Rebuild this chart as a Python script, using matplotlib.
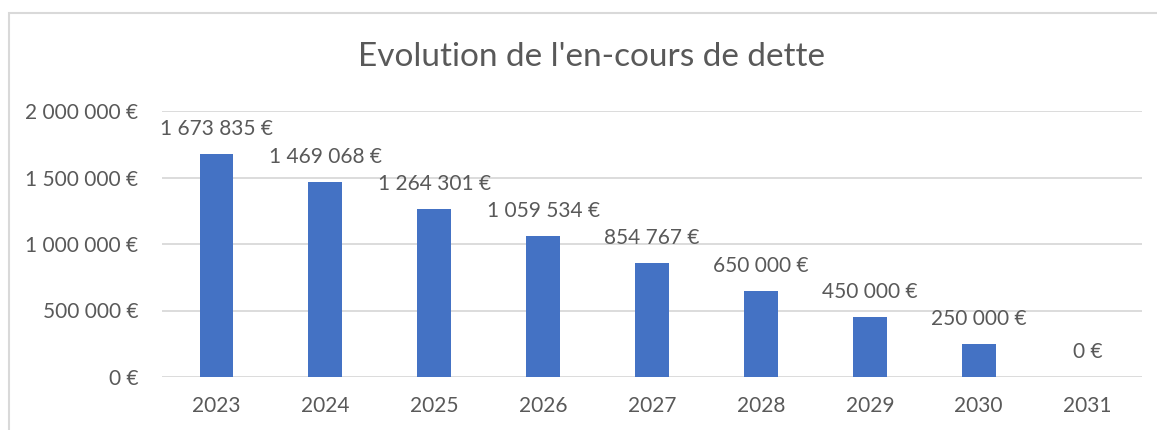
import matplotlib as mpl
import matplotlib.pyplot as plt
from matplotlib.patches import Rectangle

mpl.rcParams['font.family'] = ['Lato', 'DejaVu Sans']

years = ['2023', '2024', '2025', '2026', '2027', '2028', '2029', '2030', '2031']
encours = [1673835, 1469068, 1264301, 1059534, 854767, 650000, 450000, 250000, 0]
yticks = [0, 500000, 1000000, 1500000, 2000000]

text_color = '#595959'
grid_color = '#D9D9D9'
bar_color = '#4472C4'


def euro(v):
    return '{:,}'.format(int(v)).replace(',', ' ') + ' €'


W, H = 1157, 430
fig = plt.figure(figsize=(W / 100, H / 100), dpi=100)
ax = fig.add_axes([162 / W, 1 - 377 / H, (1142 - 162) / W, (377 - 111) / H])

x = list(range(len(years)))
bars = ax.bar(x, encours, width=0.31, color=bar_color, zorder=3)

for xi, v in zip(x, encours):
    ax.annotate(euro(v), (xi, v), xytext=(0, 18), textcoords='offset points',
                ha='center', va='center', fontsize=15, color=text_color)

ax.set_xlim(-0.5, len(years) - 0.5)
ax.set_ylim(0, 2000000)
ax.set_yticks(yticks)
ax.set_yticklabels([euro(t) for t in yticks])
ax.set_xticks(x)
ax.set_xticklabels(years)
ax.tick_params(axis='y', length=0, pad=17, labelsize=15, labelcolor=text_color)
ax.tick_params(axis='x', length=0, pad=14, labelsize=15, labelcolor=text_color)
ax.grid(axis='y', color=grid_color, linewidth=1.3, zorder=0)
for s in ax.spines.values():
    s.set_visible(False)

fig.text(591 / W, 1 - 57 / H, "Evolution de l'en-cours de dette",
         ha='center', va='center', fontsize=24, color=text_color)

# cadre du graphique (coupé à droite et en bas)
fig.patches.append(Rectangle((9 / W, -0.1), 1.2, 1.1 - 13 / H,
                             transform=fig.transFigure, fill=False,
                             edgecolor=grid_color, linewidth=1.5))

fig.savefig('out.png', dpi=100)
